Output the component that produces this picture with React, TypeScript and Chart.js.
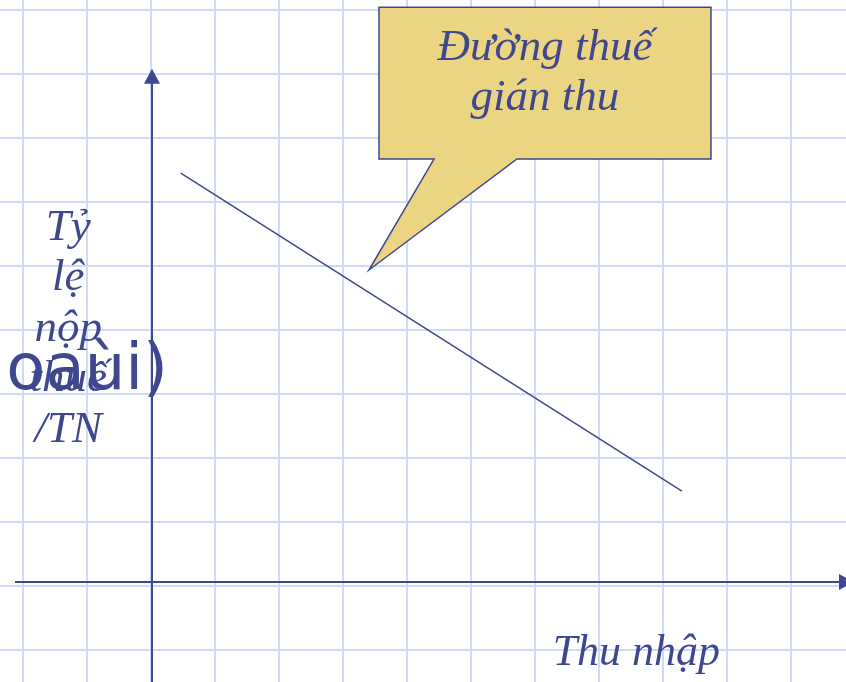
import React, { useEffect, useRef } from "react";
import { Chart, registerables } from "chart.js";

Chart.register(...registerables);

// Data: the indirect-tax line (tax rate / income falls as income rises)
const incomeValues = [0.45, 8.28];
const taxRateValues = [6.39, 1.42];

const calloutLines = ["Đường thuế", "gián thu"];
const yAxisLabelLines = ["Tỷ", "lệ", "nộp", "thuế", "/TN"];
const xAxisLabel = "Thu nhập";
const garbledLabel = "oaùi)";

const W = 846;
const H = 682;
const UNIT = 64;
const ORIGIN_X = 152;
const ORIGIN_Y = 582;

const X_MIN = -ORIGIN_X / UNIT;
const X_MAX = (W - ORIGIN_X) / UNIT;
const Y_MIN = (ORIGIN_Y - H) / UNIT;
const Y_MAX = ORIGIN_Y / UNIT;

const INK = "#3f478f";
const GRID = "#cfdaf8";
const NOTE_FILL = "#ebd582";

function gridTicks(min: number, max: number, offset: number) {
  const out: { value: number }[] = [];
  for (let v = Math.ceil(min - offset) + offset; v <= max; v += 1) out.push({ value: v });
  return out;
}

const decorPlugin = {
  id: "decor",
  afterDatasetsDraw(chart: any) {
    const { ctx, scales } = chart;
    const sx = scales.x;
    const sy = scales.y;
    const px = (v: number) => sx.getPixelForValue(v);
    const py = (v: number) => sy.getPixelForValue(v);
    ctx.save();

    // Axes
    const x0 = px(0);
    const y0 = py(0);
    ctx.strokeStyle = INK;
    ctx.fillStyle = INK;
    ctx.lineWidth = 2;
    const yTip = py(8.02);
    ctx.beginPath();
    ctx.moveTo(x0, py(Y_MIN));
    ctx.lineTo(x0, yTip + 12);
    ctx.stroke();
    ctx.beginPath();
    ctx.moveTo(x0, yTip);
    ctx.lineTo(x0 - 8, yTip + 15);
    ctx.lineTo(x0 + 8, yTip + 15);
    ctx.closePath();
    ctx.fill();
    const xTip = px(X_MAX) + 8;
    ctx.beginPath();
    ctx.moveTo(px(-2.14), y0);
    ctx.lineTo(xTip - 12, y0);
    ctx.stroke();
    ctx.beginPath();
    ctx.moveTo(xTip, y0);
    ctx.lineTo(xTip - 15, y0 - 8);
    ctx.lineTo(xTip - 15, y0 + 8);
    ctx.closePath();
    ctx.fill();

    // Callout
    const L = px(3.547), R = px(8.734), T = py(8.98), B = py(6.609);
    const b1 = px(4.406), b2 = px(5.703);
    const tipX = px(3.39), tipY = py(4.875);
    ctx.beginPath();
    ctx.moveTo(L, T);
    ctx.lineTo(R, T);
    ctx.lineTo(R, B);
    ctx.lineTo(b2, B);
    ctx.lineTo(tipX, tipY);
    ctx.lineTo(b1, B);
    ctx.lineTo(L, B);
    ctx.closePath();
    ctx.fillStyle = NOTE_FILL;
    ctx.fill();
    ctx.lineWidth = 1.5;
    ctx.strokeStyle = INK;
    ctx.stroke();

    ctx.fillStyle = INK;
    ctx.textAlign = "center";
    ctx.textBaseline = "alphabetic";
    ctx.font = "italic 45px 'Liberation Serif'";
    const cx = px(6.14);
    calloutLines.forEach((t, i) => ctx.fillText(t, cx, T + 53 + i * 50));

    // Y axis label
    const lx = px(-1.31);
    yAxisLabelLines.forEach((t, i) => ctx.fillText(t, lx, py(5.35) + i * 50.5));

    // garbled overlay label
    ctx.textAlign = "right";
    ctx.font = "64px 'DejaVu Sans'";
    ctx.fillText(garbledLabel, px(0.25), py(3.01));

    // X axis label
    ctx.textAlign = "left";
    ctx.font = "italic 44px 'Liberation Serif'";
    ctx.fillText(xAxisLabel, px(6.26), py(-1.3));

    ctx.restore();
  },
};

export default function App() {
  const ref = useRef<HTMLCanvasElement | null>(null);
  useEffect(() => {
    document.body.style.margin = "0";
    const canvas = ref.current!;
    const chart = new Chart(canvas, {
      type: "line",
      data: {
        datasets: [
          {
            data: incomeValues.map((x, i) => ({ x, y: taxRateValues[i] })),
            borderColor: INK,
            borderWidth: 1.5,
            pointRadius: 0,
            fill: false,
            tension: 0,
          },
        ],
      },
      options: {
        animation: false,
        responsive: false,
        maintainAspectRatio: false,
        layout: { padding: 0 },
        plugins: { legend: { display: false }, tooltip: { enabled: false } },
        events: [],
        scales: {
          x: {
            type: "linear",
            min: X_MIN,
            max: X_MAX,
            afterBuildTicks: (s: any) => { s.ticks = gridTicks(X_MIN, X_MAX, -0.016); },
            ticks: { display: false },
            border: { display: false },
            grid: { color: GRID, lineWidth: 2, drawTicks: false },
          },
          y: {
            type: "linear",
            min: Y_MIN,
            max: Y_MAX,
            afterBuildTicks: (s: any) => { s.ticks = gridTicks(Y_MIN, Y_MAX, -0.0625); },
            ticks: { display: false },
            border: { display: false },
            grid: { color: GRID, lineWidth: 2, drawTicks: false },
          },
        },
      },
      plugins: [decorPlugin],
    });
    return () => chart.destroy();
  }, []);
  return (
    <div style={{ position: "absolute", left: 0, top: 0, width: W, height: H, background: "#ffffff" }}>
      <canvas ref={ref} width={W} height={H} style={{ display: "block" }} />
    </div>
  );
}
